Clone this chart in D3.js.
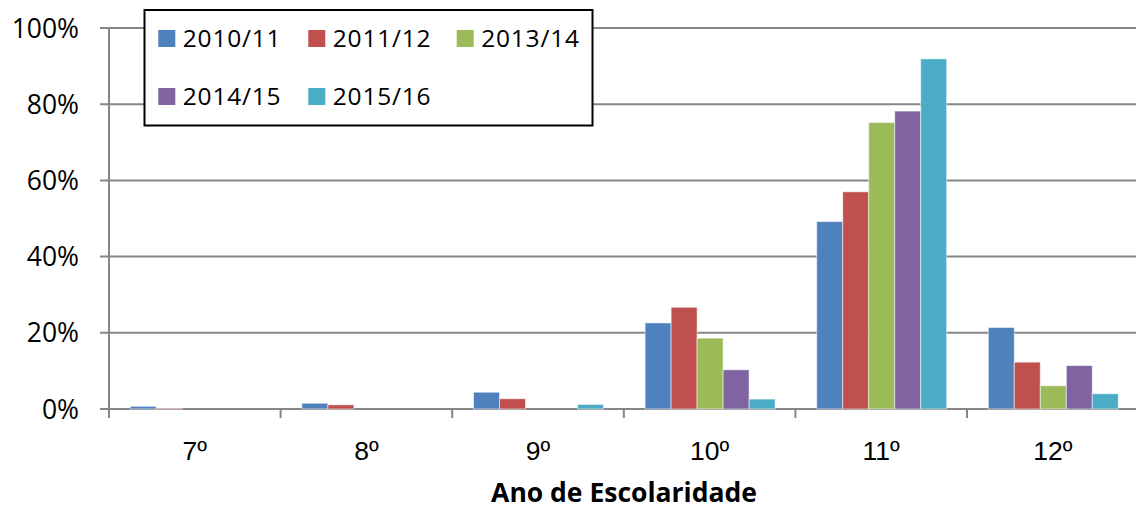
<!DOCTYPE html>
<html>
<head>
<meta charset="utf-8">
<script src="https://cdn.jsdelivr.net/npm/d3@7.9.0/dist/d3.min.js"></script>
<style>
  body { margin: 0; background: #fff; }
  svg { display: block; font-family: "Open Sans", sans-serif; }
</style>
</head>
<body>
<svg width="1136" height="509"></svg>
<script>
// data
const categories = ['7º', '8º', '9º', '10º', '11º', '12º'];
const series = ['2010/11', '2011/12', '2013/14', '2014/15', '2015/16'];
const v201011 = [0.7, 1.5, 4.4, 22.6, 49.2, 21.4];
const v201112 = [0.2, 1.1, 2.7, 26.7, 57.0, 12.3];
const v201314 = [0, 0, 0, 18.6, 75.2, 6.1];
const v201415 = [0, 0, 0, 10.3, 78.2, 11.4];
const v201516 = [0, 0, 1.2, 2.6, 91.9, 4.0];
const yTicks = [0, 20, 40, 60, 80, 100];
const colors = ['#4F81BD', '#C0504D', '#9BBB59', '#8064A2', '#4BACC6'];

const values = [v201011, v201112, v201314, v201415, v201516];

const svg = d3.select('svg');
const plotLeft = 109, plotRight = 1138.6, plotTop = 28, plotBottom = 409;

let x = d3.scaleBand().domain(categories).range([plotLeft, plotRight]);
let x1 = d3.scaleBand().domain(series).range([21.3, 151.3]);
let y = d3.scaleLinear().domain([0, 100]).range([plotBottom, plotTop]);

// gridlines
svg.append('g')
  .selectAll('line')
  .data(yTicks)
  .join('line')
  .attr('x1', plotLeft - 9)
  .attr('x2', 1136)
  .attr('y1', d => y(d))
  .attr('y2', d => y(d))
  .attr('stroke', '#868686')
  .attr('stroke-width', 2);

// y labels
svg.append('g')
  .selectAll('text')
  .data(yTicks)
  .join('text')
  .attr('x', 79)
  .attr('y', d => y(d) + 9.5)
  .attr('text-anchor', 'end')
  .attr('font-size', 26.5)
  .attr('fill', '#000')
  .text(d => d + '%');

// axis line + category ticks
svg.append('line')
  .attr('x1', plotLeft).attr('x2', plotLeft)
  .attr('y1', plotTop).attr('y2', plotBottom + 9)
  .attr('stroke', '#868686').attr('stroke-width', 2);

svg.append('g')
  .selectAll('line')
  .data(categories.slice(1))
  .join('line')
  .attr('x1', d => x(d))
  .attr('x2', d => x(d))
  .attr('y1', plotBottom)
  .attr('y2', plotBottom + 9)
  .attr('stroke', '#868686')
  .attr('stroke-width', 2);

// bars
series.forEach((s, i) => {
  svg.append('g')
    .selectAll('rect')
    .data(values[i])
    .join('rect')
    .attr('x', (d, j) => x(categories[j]) + x1(s))
    .attr('y', d => y(d))
    .attr('width', x1.bandwidth())
    .attr('height', d => plotBottom - y(d))
    .attr('fill', colors[i])
    .attr('stroke', d => d > 0 ? 'rgba(255,255,255,0.55)' : 'none')
    .attr('stroke-width', 1);
});

// x labels
svg.append('g')
  .selectAll('text')
  .data(categories)
  .join('text')
  .attr('x', d => x(d) + x.bandwidth() / 2)
  .attr('y', 460)
  .attr('text-anchor', 'middle')
  .attr('font-family', '"Liberation Sans", sans-serif')
  .attr('font-size', 26.5)
  .attr('fill', '#000')
  .text(d => d);

svg.append('text')
  .attr('x', 624)
  .attr('y', 502)
  .attr('text-anchor', 'middle')
  .attr('font-size', 26.5)
  .attr('font-weight', 'bold')
  .attr('fill', '#000')
  .text('Ano de Escolaridade');

// legend
let legend = svg.append('g');
legend.append('rect')
  .attr('x', 144.5).attr('y', 10)
  .attr('width', 448).attr('height', 115.5)
  .attr('fill', '#fff')
  .attr('stroke', '#000').attr('stroke-width', 2);

const legX = [158.3, 308.3, 456.7];
const legY = [30, 88];
series.forEach((s, i) => {
  let cx = legX[i % 3], cy = legY[Math.floor(i / 3)];
  legend.append('rect')
    .attr('x', cx).attr('y', cy)
    .attr('width', 17).attr('height', 17)
    .attr('fill', colors[i]);
  legend.append('text')
    .attr('x', cx + 24.5)
    .attr('y', cy + 16.7)
    .attr('font-size', 24.5)
    .attr('letter-spacing', 0.8)
    .attr('fill', '#000')
    .text(s);
});
</script>
</body>
</html>
